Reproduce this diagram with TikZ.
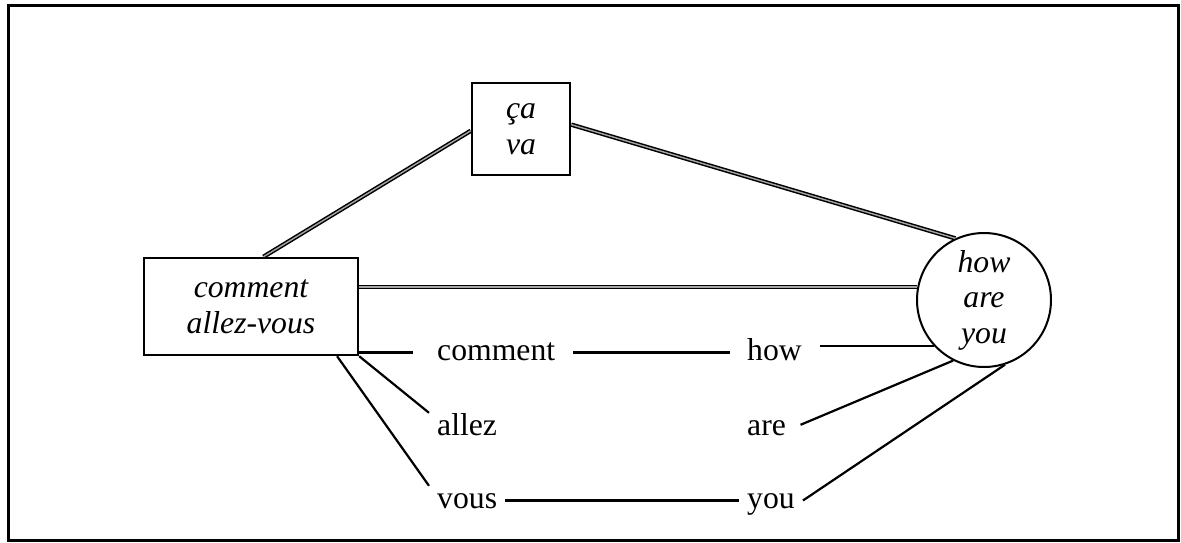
\documentclass[tikz,border=0pt]{standalone}
\usepackage{fontspec}
\setmainfont{Liberation Serif}
\begin{document}
\begin{tikzpicture}[x=1pt,y=-1pt,
  every node/.style={font=\fontsize{31.7}{36}\selectfont},
  boxnode/.style={draw, line width=2.4pt, rectangle, align=center, inner sep=0pt,
    font=\fontsize{31.7}{36}\selectfont\itshape},
  circnode/.style={draw, line width=2pt, circle, align=center, inner sep=0pt,
    minimum size=134pt, font=\fontsize{31.7}{35.5}\selectfont\itshape},
  word/.style={inner xsep=8pt, inner ysep=0pt, text height=22pt, text depth=7pt, anchor=base west},
  link/.style={line width=2.2pt},
  dbl/.style={line width=1.5pt, double=gray!70, double distance=1.4pt},
  frame/.style={line width=3pt}
]
\useasboundingbox (0,0) rectangle (1181,542);
\draw[frame] (8.5,5.5) rectangle (1178,540.5);

\node[boxnode, minimum width=98pt, minimum height=92pt] (ca) at (521,129) {ça\\va};
\node[boxnode, minimum width=214pt, minimum height=97pt] (cav) at (251,306.5) {comment\\allez-vous};
\node[circnode] (hay) at (984,300) {how\\are\\you};

\node[word] (comment) at (429,360) {comment};
\node[word] (allez) at (429,435) {allez};
\node[word] (vous) at (429,508) {vous};
\node[word] (how) at (739,360) {how};
\node[word] (are) at (739,435) {are};
\node[word] (you) at (739,508) {you};

\draw[dbl] (cav.76) -- (ca.182);
\draw[dbl] (ca.5) -- (hay.115);
\draw[dbl] (cav.east |- hay.169) -- (hay.169);

\draw[link, shorten >=16pt] (cav.east |- comment.west) -- (comment.west);
\draw[link] (cav.south east) -- (allez.north west);
\draw[link] (cav.330.6) -- (vous.north west);
\draw[link, shorten <=10pt, shorten >=9pt] (comment.east) -- (how.west);
\draw[link] (vous.east) -- (you.west);
\draw[link, shorten <=10pt] (how.east |- hay.223) -- (hay.223);
\draw[link, shorten <=7pt] (are.east) -- (hay.243);
\draw[link] (you.east) -- (hay.288);
\end{tikzpicture}
\end{document}
